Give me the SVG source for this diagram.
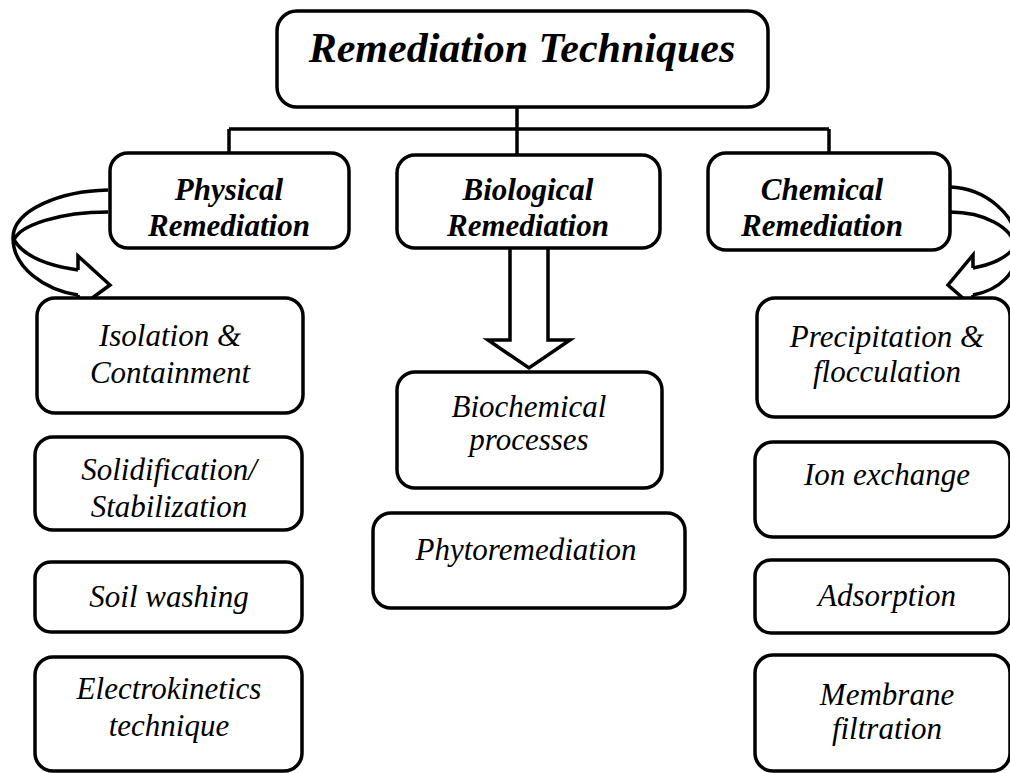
<svg xmlns="http://www.w3.org/2000/svg" width="1010" height="773" viewBox="0 0 1010 773">
<style>
.box{fill:#fff;stroke:#000;stroke-width:3.5}
.ln{fill:none;stroke:#000;stroke-width:3.5;stroke-linejoin:miter}
.ar{fill:#fff;stroke:#000;stroke-width:3.5;stroke-linejoin:miter}
.t{font-family:"Liberation Serif","Times New Roman",serif;font-style:italic;font-size:31px;text-anchor:middle;fill:#000}
.b{font-weight:bold}
.title{font-size:42px}
</style>
<rect width="1010" height="773" fill="#fff"/>
<g id="connectors">
<path class="ln" d="M517,107 V129 M229,129 H829 M229,129 V153 M517,129 V155 M829,129 V153"/>
<path class="ar" d="M510,248 V340 H488 L529,368 L570,340 H548 V248"/>
<path class="ln" d="M108,190 C60,191 13,210 13,238 C13,268 45,290 78,295"/>
<path class="ln" d="M108,212 C60,212 20,225 14,240 C25,258 50,266 78,270"/>
<path class="ln" d="M78,270 L78,256 L110,285 L80,307 L78,295"/>
<path class="ln" d="M950,187 C985,188 1018,215 1018,248 C1018,272 1000,290 973,295"/>
<path class="ln" d="M950,212 C985,212 1012,228 1015,246 C1008,258 990,265 973,268"/>
<path class="ln" d="M973,268 L973,255 L948,285 L973,307 L973,295"/>
</g>
<g id="root">
<rect class="box" x="277" y="11" width="491" height="96" rx="20"/>
<text class="t b title" x="522" y="62">Remediation Techniques</text>
</g>
<g id="physical">
<rect class="box" x="110" y="153" width="239" height="95" rx="18"/>
<text class="t b" x="229" y="200">Physical</text>
<text class="t b" x="229" y="236">Remediation</text>
</g>
<g id="biological">
<rect class="box" x="397" y="155" width="263" height="93" rx="18"/>
<text class="t b" x="528" y="200">Biological</text>
<text class="t b" x="528" y="236">Remediation</text>
</g>
<g id="chemical">
<rect class="box" x="708" y="153" width="242" height="97" rx="18"/>
<text class="t b" x="822" y="200">Chemical</text>
<text class="t b" x="822" y="236">Remediation</text>
</g>
<g id="isolation">
<rect class="box" x="37" y="298" width="266" height="115" rx="18"/>
<text class="t" x="170" y="346">Isolation &amp;</text>
<text class="t" x="170" y="383">Containment</text>
</g>
<g id="solidification">
<rect class="box" x="35" y="437" width="267" height="93" rx="18"/>
<text class="t" x="169" y="480">Solidification/</text>
<text class="t" x="169" y="517">Stabilization</text>
</g>
<g id="soilwashing">
<rect class="box" x="35" y="562" width="267" height="70" rx="16"/>
<text class="t" x="169" y="607">Soil washing</text>
</g>
<g id="electrokinetics">
<rect class="box" x="35" y="657" width="267" height="114" rx="18"/>
<text class="t" x="169" y="699">Electrokinetics</text>
<text class="t" x="169" y="736">technique</text>
</g>
<g id="biochemical">
<rect class="box" x="397" y="372" width="265" height="116" rx="18"/>
<text class="t" x="529" y="417">Biochemical</text>
<text class="t" x="529" y="450">processes</text>
</g>
<g id="phytoremediation">
<rect class="box" x="373" y="513" width="312" height="95" rx="18"/>
<text class="t" x="526" y="560">Phytoremediation</text>
</g>
<g id="precipitation">
<rect class="box" x="757" y="298" width="253" height="119" rx="18"/>
<text class="t" x="887" y="347">Precipitation &amp;</text>
<text class="t" x="887" y="382">flocculation</text>
</g>
<g id="ionexchange">
<rect class="box" x="755" y="442" width="255" height="95" rx="18"/>
<text class="t" x="887" y="485">Ion exchange</text>
</g>
<g id="adsorption">
<rect class="box" x="755" y="560" width="255" height="73" rx="16"/>
<text class="t" x="887" y="606">Adsorption</text>
</g>
<g id="membrane">
<rect class="box" x="755" y="655" width="255" height="116" rx="18"/>
<text class="t" x="887" y="705">Membrane</text>
<text class="t" x="887" y="739">filtration</text>
</g>
</svg>
